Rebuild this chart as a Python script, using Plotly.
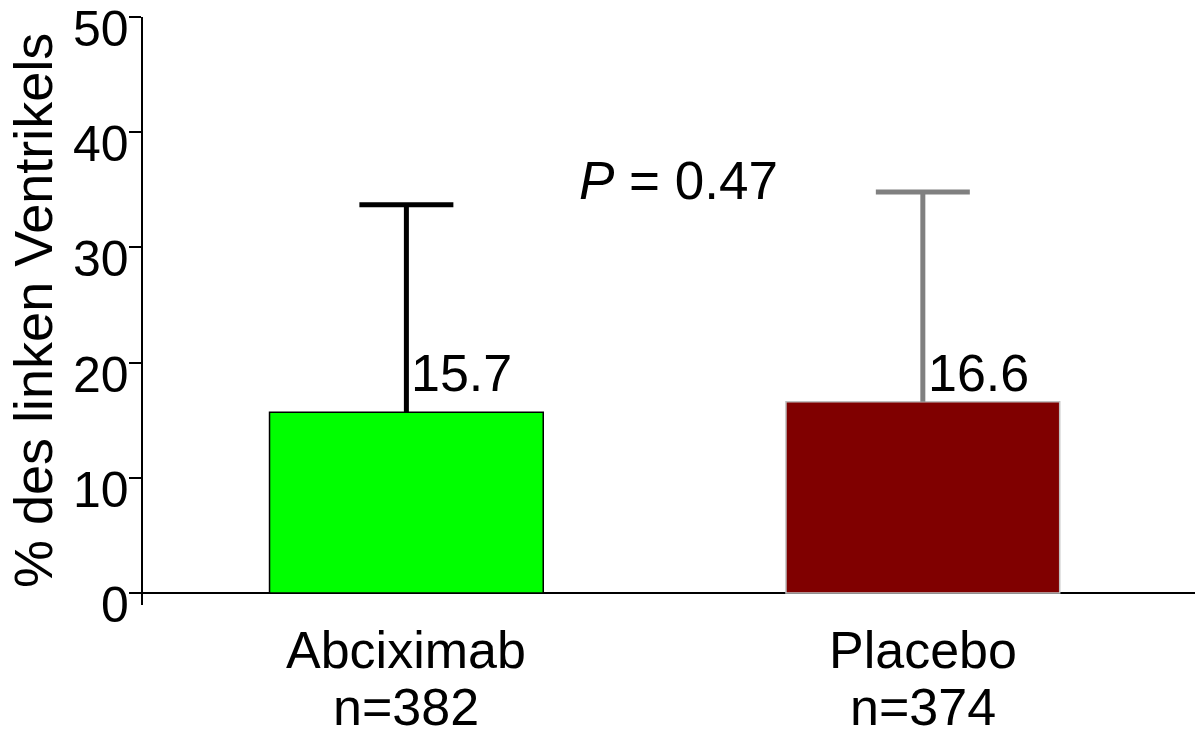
import plotly.graph_objects as go

# Infarct size (% of left ventricle), mean with upper SD
categories = ["Abciximab", "Placebo"]
n_patients = [382, 374]
means = [15.7, 16.6]
sd_upper = [18.0, 18.2]
p_value = "0.47"

y_ticks = [0, 10, 20, 30, 40, 50]

bar_colors = ["#00ff00", "#800000"]
bar_edges = ["#000000", "#c0c0c0"]
err_colors = ["#000000", "#808080"]

FONT = "Liberation Sans, Arial, sans-serif"
CAP_HALF = 0.091   # half width of the error-bar cap, x units
BAR_WIDTH = 0.53

xpos = list(range(len(categories)))

fig = go.Figure()

fig.add_trace(go.Bar(
    x=xpos, y=means, width=BAR_WIDTH,
    marker=dict(color=bar_colors, line=dict(color=bar_edges, width=1.5)),
    showlegend=False, hoverinfo="skip",
))

# upper-only error bars: stem from the bar top plus a cap
for i, (m, e) in enumerate(zip(means, sd_upper)):
    fig.add_trace(go.Scatter(
        x=[xpos[i], xpos[i], None, xpos[i] - CAP_HALF, xpos[i] + CAP_HALF],
        y=[m, m + e, None, m + e, m + e],
        mode="lines", line=dict(color=err_colors[i], width=5),
        showlegend=False, hoverinfo="skip",
    ))

annotations = []
top_level = max(means)
for i, m in enumerate(means):
    annotations.append(dict(
        x=xpos[i], y=top_level, xref="x", yref="y",
        text=f"{m:.1f}", showarrow=False,
        xanchor="left", yanchor="bottom", xshift=3, yshift=-2,
        font=dict(family=FONT, size=52, color="black"),
    ))

annotations.append(dict(
    x=0.526, y=35.8, xref="x", yref="y",
    text=f"<i>P</i> = {p_value}", showarrow=False,
    xanchor="center", yanchor="middle",
    font=dict(family=FONT, size=53, color="black"),
))

# y tick labels, set slightly below their ticks
for v in y_ticks:
    annotations.append(dict(
        x=0, y=v, xref="paper", yref="y",
        text=str(v), showarrow=False,
        xanchor="right", yanchor="middle", xshift=-12, yshift=-12,
        font=dict(family=FONT, size=50, color="black"),
    ))

# category names with patient counts underneath
for i, (c, n) in enumerate(zip(categories, n_patients)):
    annotations.append(dict(
        x=xpos[i], y=0, xref="x", yref="paper",
        text=c, showarrow=False,
        xanchor="center", yanchor="middle", yshift=-45,
        font=dict(family=FONT, size=52, color="black"),
    ))
    annotations.append(dict(
        x=xpos[i], y=0, xref="x", yref="paper",
        text=f"n={n}", showarrow=False,
        xanchor="center", yanchor="middle", yshift=-102,
        font=dict(family=FONT, size=52, color="black"),
    ))

annotations.append(dict(
    x=0, y=0.5, xref="paper", yref="paper",
    text="% des linken Ventrikels", showarrow=False, textangle=-90,
    xanchor="center", yanchor="middle", xshift=-110,
    font=dict(family=FONT, size=54, color="black"),
))

fig.update_layout(
    width=1197, height=735,
    margin=dict(l=143, r=2, t=17, b=130, autoexpand=False),
    paper_bgcolor="white", plot_bgcolor="white",
    annotations=annotations,
    xaxis=dict(
        range=[-0.510, 1.527], automargin=False,
        showticklabels=False,
        showgrid=False, zeroline=False, showline=False, ticks="",
    ),
    yaxis=dict(
        range=[-1.04, 50], automargin=False,
        tickvals=y_ticks, showticklabels=False,
        ticks="outside", ticklen=12, tickwidth=2, tickcolor="black",
        showline=True, linecolor="black", linewidth=2,
        zeroline=True, zerolinecolor="black", zerolinewidth=2,
        showgrid=False,
    ),
)

fig.write_html("out.html")
